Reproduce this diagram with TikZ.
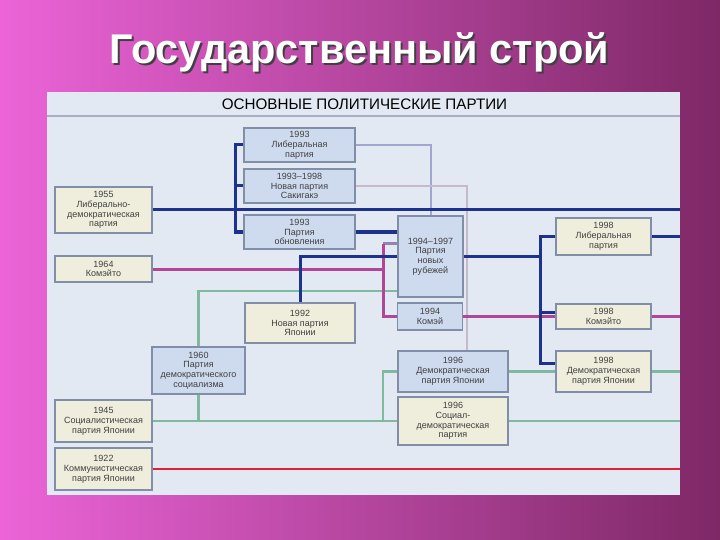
\documentclass[tikz,border=0pt]{standalone}
\usepackage{fontspec}
\setmainfont{Liberation Sans}
\usetikzlibrary{backgrounds}
\definecolor{bgpink}{RGB}{236,100,216}
\definecolor{bgpurple}{RGB}{126,40,102}
\definecolor{panel}{RGB}{226,233,242}
\definecolor{cream}{RGB}{239,238,220}
\definecolor{pale}{RGB}{206,219,238}
\definecolor{edge}{RGB}{128,142,168}
\definecolor{navy}{RGB}{28,50,140}
\definecolor{mauve}{RGB}{176,70,150}
\definecolor{lilac}{RGB}{150,128,184}
\definecolor{sage}{RGB}{128,184,160}
\definecolor{scarlet}{RGB}{226,30,56}
\definecolor{haze}{RGB}{160,166,208}
\definecolor{rosegrey}{RGB}{200,184,204}
\begin{document}
\begin{tikzpicture}[x=1pt,y=-1pt,
	box/.style={draw=edge,line width=1.2pt,align=center,inner sep=0pt,text=black!75,font=\fontsize{9}{9.8}\selectfont},
	old/.style={box,fill=cream},
	new/.style={box,fill=pale},
	wh/.style 2 args={minimum width=#1pt,minimum height=#2pt},
	navyline/.style={draw=navy,line width=3pt},
	mauveline/.style={draw=mauve,line width=3pt},
	lilacline/.style={draw=lilac,line width=2.5pt},
	sageline/.style={draw=sage,line width=2.2pt},
	redline/.style={draw=scarlet,line width=2.5pt},
	hazeline/.style={draw=haze,line width=2pt},
	roseline/.style={draw=rosegrey,line width=2pt}]
		\useasboundingbox(0,0)rectangle(720,540);
		% title and header
		\node[font=\bfseries\fontsize{41.5}{41.5}\selectfont,text=black!75](titleshade)at(361.5,54){Государственный строй};
		\node[font=\bfseries\fontsize{41.5}{41.5}\selectfont,text=white](title)at(359.5,52){Государственный строй};
		\node[font=\fontsize{15.2}{15.2}\selectfont,text=black](head)at(364.5,104){ОСНОВНЫЕ ПОЛИТИЧЕСКИЕ ПАРТИИ};
		% parties
		\node[old,wh={97}{46}](lde)at(103.5,210){1955\\Либерально-\\демократическая\\партия};
		\node[new,wh={111}{34}](lib93)at(299.5,145){1993\\Либеральная\\партия};
		\node[new,wh={111}{34}](sak)at(299.5,186){1993--1998\\Новая партия\\Сакигакэ};
		\node[new,wh={111}{34}](obn)at(299.5,232){1993\\Партия\\обновления};
		\node[old,wh={97}{26}](kmt64)at(103.5,269){1964\\Комэйто};
		\node[old,wh={110}{40}](npj)at(300,323){1992\\Новая партия\\Японии};
		\node[new,wh={93}{47}](dsp)at(198.5,370.5){1960\\Партия\\демократического\\социализма};
		\node[old,wh={97}{42}](sp)at(103.5,421){1945\\Социалистическая\\партия Японии};
		\node[old,wh={97}{42}](kpj)at(103.5,469){1922\\Коммунистическая\\партия Японии};
		\node[new,wh={65}{81}](nfp)at(430.5,256.5){1994--1997\\Партия\\новых\\рубежей};
		\node[new,wh={65}{27}](kome)at(430,316.5){1994\\Комэй};
		\node[new,wh={110}{41}](dpj96)at(453,371.5){1996\\Демократическая\\партия Японии};
		\node[old,wh={110}{48}](sdp)at(453,421){1996\\Социал-\\демократическая\\партия};
		\node[old,wh={95}{37}](lib98)at(603.5,236.5){1998\\Либеральная\\партия};
		\node[old,wh={95}{25}](kmt98)at(603.5,316.5){1998\\Комэйто};
		\node[old,wh={95}{41}](dpj98)at(603.5,371.5){1998\\Демократическая\\партия Японии};
		% links
		\begin{scope}[on background layer]
		\shade[left color=bgpink,right color=bgpurple](0,0)rectangle(720,540);
		\fill[panel](47,92)rectangle(680,495);
		\draw[edge!70,line width=1.5pt](47,116)--(680,116);
		\coordinate(rim)at(680,0);
		\coordinate(fork)at(235,0);
		\coordinate(fork2)at(540,0);
		\coordinate(drop)at(383,0);
		\coordinate(nfpin)at([yshift=13pt]nfp.west);
		\coordinate(gin)at([yshift=-34.5pt]nfp.west);
		\coordinate(ktick)at([yshift=4pt]kmt98.west);
		\coordinate(dtick)at([yshift=8pt]dpj98.west);
		\draw[hazeline](lib93.east)-|(nfp.north);
		\draw[roseline](sak.east)-|([xshift=14pt]dpj96.north);
		\draw[redline](kpj.east)--(kpj.east-|rim);
		\draw[sageline](dsp.north)|-(gin);
		\draw[sageline](sp.east)--(sdp.west);
		\draw[sageline](dsp.south)--(dsp.south|-sp.east);
		\draw[sageline](drop|-sp.east)|-(dpj96.west);
		\draw[sageline](sdp.east)--(sdp.east-|rim);
		\draw[sageline](dpj96.east)--(dpj98.west);
		\draw[sageline](dpj98.east)--(dpj98.east-|rim);
		\draw[lilacline](drop|-nfpin)--(nfpin);
		\draw[mauveline](kmt64.east)--(kmt64.east-|drop);
		\draw[mauveline](drop|-nfpin)--(drop|-kome.west)--(kome.west);
		\draw[mauveline](kome.east)--(kmt98.west);
		\draw[mauveline](kmt98.east)--(kmt98.east-|rim);
		\draw[navyline](lde.east)--(lde.east-|rim);
		\draw[navyline](lib93.west)--(lib93.west-|fork)--(obn.west-|fork)--(obn.west);
		\draw[navyline](sak.west-|fork)--(sak.west);
		\draw[navyline](obn.east)--(obn.east-|nfp.west);
		\draw[navyline](npj.north)|-(nfp.west);
		\draw[navyline](nfp.east)--(nfp.east-|fork2);
		\draw[navyline](lib98.west)--(lib98.west-|fork2)--(dtick-|fork2)--(dtick);
		\draw[navyline](ktick-|fork2)--(ktick);
		\draw[navyline](lib98.east)--(lib98.east-|rim);
		\end{scope}
	\end{tikzpicture}
\end{document}
